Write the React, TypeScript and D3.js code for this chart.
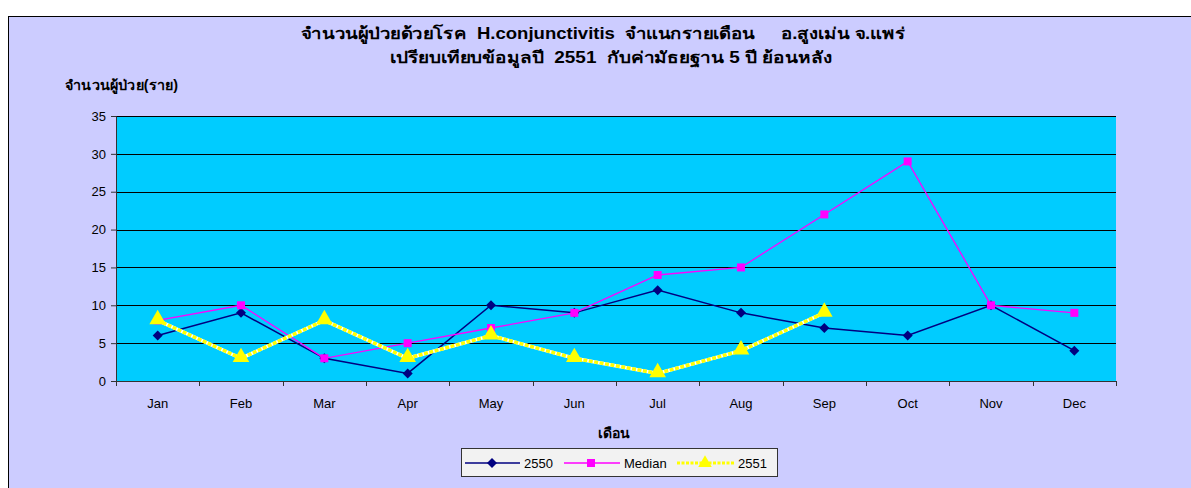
import React from "react";
import * as d3 from "d3";

const months = ["Jan", "Feb", "Mar", "Apr", "May", "Jun", "Jul", "Aug", "Sep", "Oct", "Nov", "Dec"];
const values2550 = [6, 9, 3, 1, 10, 9, 12, 9, 7, 6, 10, 4];
const valuesMedian = [8, 10, 3, 5, 7, 9, 14, 15, 22, 29, 10, 9];
const values2551 = [8, 3, 8, 3, 6, 3, 1, 4, 9];
const yTicks = [0, 5, 10, 15, 20, 25, 30, 35];

const titleLine1 = "จำนวนผู้ป่วยด้วยโรค  H.conjunctivitis  จำแนกรายเดือน     อ.สูงเม่น จ.แพร่";
const titleLine2 = "เปรียบเทียบข้อมูลปี  2551  กับค่ามัธยฐาน 5 ปี ย้อนหลัง";
const yLabel = "จำนวนผู้ป่วย(ราย)";
const xLabel = "เดือน";

// rotated square marker, like Excel's diamond
const diamondType = {
  draw(ctx: any, size: number) {
    const r = Math.sqrt(size) / 2 * Math.SQRT2;
    ctx.moveTo(0, -r);
    ctx.lineTo(r, 0);
    ctx.lineTo(0, r);
    ctx.lineTo(-r, 0);
    ctx.closePath();
  },
};

export default function App() {
  const svgRef = React.useRef<SVGSVGElement>(null);

  React.useEffect(() => {
    const width = 1191;
    const height = 488;
    const svg = d3.select(svgRef.current).attr("width", width).attr("height", height);
    svg.selectAll("*").remove();

    const left = 116, right = 1116, top = 116, bottom = 381;
    const font = "'Liberation Sans', Arial, sans-serif";

    // chart background
    svg.append("rect").attr("width", width).attr("height", height).attr("fill", "#fff");
    svg.append("rect")
      .attr("x", 8.5).attr("y", 16.5).attr("width", width).attr("height", height)
      .attr("fill", "#ccccff").attr("stroke", "#000").attr("stroke-width", 1);

    const x = d3.scaleBand<string>().domain(months).range([left, right]);
    const y = d3.scaleLinear().domain([0, 35]).range([bottom, top]);
    const cx = (i: number) => (x(months[i]) as number) + x.bandwidth() / 2;

    // plot area
    svg.append("rect")
      .attr("x", left).attr("y", top).attr("width", right - left).attr("height", bottom - top)
      .attr("fill", "#00ccff");

    // gridlines
    svg.append("g")
      .selectAll("line")
      .data(yTicks.filter((t) => t > 0))
      .enter()
      .append("line")
      .attr("x1", left).attr("x2", right)
      .attr("y1", (d) => Math.round(y(d)) + 0.5).attr("y2", (d) => Math.round(y(d)) + 0.5)
      .attr("stroke", "#000").attr("stroke-width", 1);

    // y axis
    const yAxis = svg.append("g")
      .attr("transform", `translate(${left},0)`)
      .call(d3.axisLeft(y).tickValues(yTicks).tickSize(5).tickPadding(5));
    yAxis.select(".domain").attr("stroke", "#333");
    yAxis.selectAll("line").attr("stroke", "#333");
    yAxis.selectAll("text").attr("font-size", 13).attr("font-family", font).attr("fill", "#000");

    // x axis: ticks between categories
    const xg = svg.append("g").attr("transform", `translate(0,${bottom})`);
    xg.append("line").attr("x1", left - 5).attr("x2", right).attr("y1", 0.5).attr("y2", 0.5).attr("stroke", "#333");
    xg.selectAll("line.tk")
      .data(d3.range(months.length + 1))
      .enter()
      .append("line")
      .attr("class", "tk")
      .attr("x1", (i) => Math.round(left + i * x.step()) + 0.5)
      .attr("x2", (i) => Math.round(left + i * x.step()) + 0.5)
      .attr("y1", 0).attr("y2", 5)
      .attr("stroke", "#333");
    xg.selectAll("text")
      .data(months)
      .enter()
      .append("text")
      .attr("x", (d, i) => cx(i))
      .attr("y", 27)
      .attr("text-anchor", "middle")
      .attr("font-size", 13).attr("font-family", font)
      .text((d) => d);

    // titles
    const title = svg.append("g").attr("font-family", font).attr("font-weight", "bold")
      .attr("text-anchor", "middle");
    title.append("text").attr("x", 603).attr("y", 39).attr("font-size", 16)
      .attr("xml:space", "preserve").style("white-space", "pre")
      .attr("textLength", 604).attr("lengthAdjust", "spacingAndGlyphs").text(titleLine1);
    title.append("text").attr("x", 611).attr("y", 63).attr("font-size", 16)
      .attr("xml:space", "preserve").style("white-space", "pre")
      .attr("textLength", 442).attr("lengthAdjust", "spacingAndGlyphs").text(titleLine2);
    svg.append("text").attr("x", 65).attr("y", 90)
      .attr("font-family", font).attr("font-weight", "bold").attr("font-size", 14)
      .attr("textLength", 113).attr("lengthAdjust", "spacingAndGlyphs").text(yLabel);
    svg.append("text").attr("x", 614).attr("y", 438).attr("text-anchor", "middle")
      .attr("font-family", font).attr("font-weight", "bold").attr("font-size", 14).text(xLabel);

    const line = d3.line<number>().x((d, i) => cx(i)).y((d) => y(d));

    const diamond = d3.symbol().type(diamondType as any).size(50);
    const square = d3.symbol().type(d3.symbolSquare).size(64);
    const triangle = d3.symbol().type(d3.symbolTriangle).size(120);

    // 2550
    svg.append("path").datum(values2550).attr("d", line).attr("fill", "none")
      .attr("stroke", "#000080").attr("stroke-width", 1.5);
    svg.append("g").selectAll("path").data(values2550).enter().append("path")
      .attr("d", diamond).attr("transform", (d, i) => `translate(${cx(i)},${y(d)})`)
      .attr("fill", "#000080");

    // Median
    svg.append("path").datum(valuesMedian).attr("d", line).attr("fill", "none")
      .attr("stroke", "#ff00ff").attr("stroke-width", 1.3);
    svg.append("g").selectAll("path").data(valuesMedian).enter().append("path")
      .attr("d", square).attr("transform", (d, i) => `translate(${cx(i)},${y(d)})`)
      .attr("fill", "#ff00ff");

    // 2551
    svg.append("path").datum(values2551).attr("d", line).attr("fill", "none")
      .attr("stroke", "#ffffff").attr("stroke-width", 3.5);
    svg.append("path").datum(values2551).attr("d", line).attr("fill", "none")
      .attr("stroke", "#ffff00").attr("stroke-width", 3.5).attr("stroke-dasharray", "4,1.5");
    svg.append("g").selectAll("path").data(values2551).enter().append("path")
      .attr("d", triangle).attr("transform", (d, i) => `translate(${cx(i)},${y(d) - 1})`)
      .attr("fill", "#ffff00");

    // legend
    const lg = svg.append("g").attr("font-family", font).attr("font-size", 13);
    lg.append("rect").attr("x", 461.5).attr("y", 448.5).attr("width", 316).attr("height", 28)
      .attr("fill", "#f2f2f2").attr("stroke", "#333");
    const ly = 463;
    lg.append("line").attr("x1", 465).attr("x2", 520).attr("y1", ly).attr("y2", ly).attr("stroke", "#000080").attr("stroke-width", 1.5);
    lg.append("path").attr("d", diamond).attr("transform", `translate(492,${ly})`).attr("fill", "#000080");
    lg.append("text").attr("x", 524).attr("y", ly + 5).text("2550");
    lg.append("line").attr("x1", 564).attr("x2", 620).attr("y1", ly).attr("y2", ly).attr("stroke", "#ff00ff").attr("stroke-width", 1.3);
    lg.append("path").attr("d", square).attr("transform", `translate(591,${ly})`).attr("fill", "#ff00ff");
    lg.append("text").attr("x", 624).attr("y", ly + 5).text("Median");
    lg.append("line").attr("x1", 677).attr("x2", 735).attr("y1", ly).attr("y2", ly).attr("stroke", "#ffff00").attr("stroke-width", 3).attr("stroke-dasharray", "3,1.5");
    lg.append("path").attr("d", d3.symbol().type(d3.symbolTriangle).size(80)).attr("transform", `translate(705,${ly})`).attr("fill", "#ffff00");
    lg.append("text").attr("x", 738).attr("y", ly + 5).text("2551");
  }, []);

  return (
    <div style={{ position: "absolute", left: 0, top: 0 }}>
      <svg ref={svgRef} style={{ display: "block" }} />
    </div>
  );
}
